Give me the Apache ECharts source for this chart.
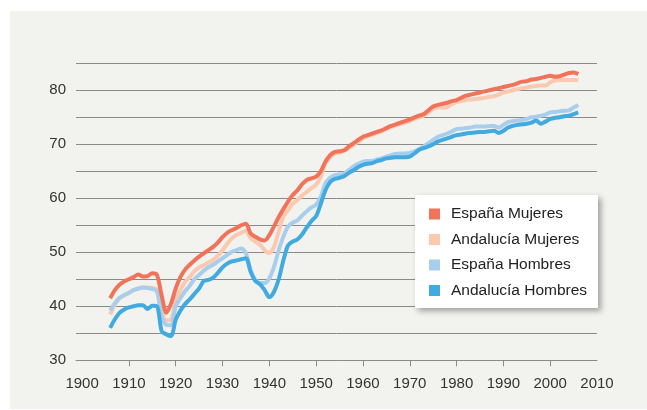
<!DOCTYPE html>
<html>
<head>
<meta charset="utf-8">
<script src="https://cdn.jsdelivr.net/npm/echarts@6/dist/echarts.min.js"></script>
<style>
  html, body { margin: 0; padding: 0; background: #ffffff; }
  #panel { position: absolute; left: 10px; top: 11px; width: 637px; height: 398px; background: #f2f2ee; }
  #chart { position: absolute; left: 0; top: 0; width: 647px; height: 410px; }
</style>
</head>
<body>
<div id="panel"></div>
<div id="chart"></div>
<script>
// años 1906-2006
const startYear = 1906;
const xLabels = [1900, 1910, 1920, 1930, 1940, 1950, 1960, 1970, 1980, 1990, 2000, 2010];
const xTicks = [1910, 1920, 1930, 1940, 1950, 1960, 1970, 1980, 1990, 2000];

const espanaMujeres = [
  41.5, 43.0, 44.0, 44.6, 45.0, 45.4, 45.9, 45.5, 45.6, 46.1,
  45.8, 42.0, 38.8, 40.5, 43.3, 45.4, 46.8, 47.7, 48.5, 49.2,
  49.8, 50.4, 51.0, 51.8, 52.8, 53.6, 54.1, 54.5, 55.0, 55.3,
  53.5, 52.9, 52.4, 52.2, 53.2, 54.8, 56.5, 58.0, 59.4, 60.6,
  61.5, 62.6, 63.4, 63.7, 64.0, 65.0, 66.8, 68.0, 68.6, 68.7,
  68.9, 69.6, 70.2, 70.8, 71.4, 71.7, 72.0, 72.3, 72.6, 73.0,
  73.4, 73.7, 74.0, 74.3, 74.6, 75.0, 75.3, 75.6, 76.3, 77.0,
  77.3, 77.5, 77.7, 78.0, 78.2, 78.6, 79.0, 79.2, 79.4, 79.6,
  79.8, 80.0, 80.2, 80.4, 80.6, 80.8, 81.0, 81.3, 81.6, 81.7,
  82.0, 82.1, 82.3, 82.5, 82.7, 82.5, 82.6, 82.9, 83.2, 83.3,
  83.0
];
const andaluciaMujeres = [
  38.5, 40.3, 41.5, 42.0, 42.5, 43.0, 43.3, 43.5, 43.5, 43.4,
  43.0, 39.0, 37.4, 37.6, 41.0, 43.0, 44.5, 45.4, 46.5, 47.2,
  47.6, 48.1, 48.6, 49.4, 50.4, 51.6, 52.6, 53.2, 53.6, 54.0,
  52.6, 52.0, 51.4, 50.4, 49.9, 51.0, 53.8, 56.6, 57.8, 59.0,
  59.7, 60.5, 61.2, 61.9, 62.5, 64.0, 66.5, 67.6, 68.3, 68.5,
  68.8, 69.3, 69.9, 70.5, 71.1, 71.5, 71.8, 72.1, 72.4, 72.9,
  73.2, 73.5, 73.8, 74.0, 74.3, 74.7, 75.0, 75.3, 75.9, 76.6,
  76.8, 76.8, 76.9, 77.4, 77.8, 78.0, 78.2, 78.3, 78.4, 78.5,
  78.6, 78.8, 78.9, 79.2, 79.6, 79.8, 80.0, 80.2, 80.4, 80.5,
  80.7, 80.8, 80.9, 80.9, 81.5, 81.8, 81.9, 81.9, 81.9, 81.9,
  81.9
];
const espanaHombres = [
  39.2, 40.6, 41.6, 42.1, 42.5, 43.0, 43.3, 43.5, 43.4, 43.2,
  42.8, 38.0, 36.6, 36.5, 40.0, 41.5, 42.8, 43.8, 45.0, 45.8,
  46.6, 47.2, 47.7, 48.3, 48.9, 49.5, 50.1, 50.4, 50.7, 49.8,
  46.7, 44.9, 44.3, 44.3, 45.2, 47.3, 50.4, 52.9, 54.8, 55.5,
  55.9, 56.8, 57.6, 58.3, 58.8, 60.3, 62.8, 63.8, 64.3, 64.4,
  64.6, 65.2, 65.9, 66.4, 66.8, 66.9, 66.9, 67.2, 67.4, 67.7,
  68.0, 68.2, 68.3, 68.3, 68.4, 68.7, 69.1, 69.6, 70.2, 70.8,
  71.4, 71.7, 72.0, 72.4, 72.8, 72.9, 73.0, 73.1, 73.3, 73.3,
  73.3, 73.4, 73.4, 73.1, 73.6, 74.1, 74.3, 74.4, 74.5, 74.7,
  75.0, 75.1, 75.3, 75.5, 75.9, 76.0, 76.1, 76.2, 76.3, 76.8,
  77.3
];
const andaluciaHombres = [
  36.0, 37.6, 38.8, 39.4, 39.8, 40.0, 40.2, 40.2, 39.5, 40.1,
  40.0, 35.4, 34.8, 34.5, 37.5, 39.2, 40.4, 41.3, 42.3, 43.3,
  44.7, 44.9, 45.3, 46.2, 47.2, 47.9, 48.3, 48.5, 48.7, 48.9,
  46.4, 44.7, 44.1, 43.0, 41.7, 42.7, 45.0, 48.5, 51.3, 52.0,
  52.4, 53.3, 54.6, 55.8, 56.7, 59.0, 61.5, 63.0, 63.6, 63.8,
  64.1, 64.7, 65.2, 65.8, 66.2, 66.4, 66.5, 66.9, 67.1, 67.4,
  67.5, 67.6, 67.6, 67.6, 67.7, 68.3, 69.0, 69.3, 69.6, 70.0,
  70.5, 70.8, 71.1, 71.4, 71.7, 71.8, 72.0, 72.1, 72.2, 72.3,
  72.3, 72.4, 72.5, 72.1, 72.5, 73.1, 73.4, 73.6, 73.7, 73.8,
  74.0, 74.4, 73.8, 74.2, 74.7, 74.9, 75.0, 75.2, 75.3, 75.6,
  75.9
];

const years = [];
for (let i = 0; i < espanaMujeres.length; i++) years.push(startYear + i);
const pairs = (vals) => vals.map((v, i) => [years[i], v]);

const font = "'Liberation Sans', Arial, sans-serif";
const gridColor = "#8a8a8a";

function lineSeries(name, vals, color, z) {
  return {
    name: name,
    type: "line",
    data: pairs(vals),
    color: color,
    smooth: 0.3,
    symbol: "none",
    z: z,
    lineStyle: { width: 4, color: color }
  };
}

const myChart = echarts.init(document.getElementById("chart"));
myChart.setOption({
  animation: false,
  grid: { left: 76, right: 50, top: 63.3, bottom: 49.7, outerBoundsMode: "none" },
  xAxis: {
    type: "value",
    min: 1898.7,
    max: 2010,
    axisLine: { show: true, lineStyle: { color: gridColor, width: 1 } },
    axisTick: { show: true, length: 6, customValues: xTicks, lineStyle: { color: gridColor } },
    axisLabel: {
      customValues: xLabels,
      margin: 16,
      color: "#333",
      fontFamily: font,
      fontSize: 15,
      formatter: function (v) { return String(v); }
    },
    splitLine: { show: false }
  },
  yAxis: {
    type: "value",
    min: 30,
    max: 85,
    interval: 5,
    axisLine: { show: false },
    axisTick: { show: false },
    axisLabel: {
      margin: 10,
      color: "#333",
      fontFamily: font,
      fontSize: 15,
      formatter: function (v) { return v % 10 === 0 ? String(v) : ""; }
    },
    splitLine: { show: true, lineStyle: { color: gridColor, width: 1 } }
  },
  graphic: [
    {
      type: "rect",
      z: 5,
      shape: { x: 415, y: 195, width: 183, height: 113 },
      style: {
        fill: "#ffffff",
        shadowBlur: 6,
        shadowOffsetX: 3,
        shadowOffsetY: 3,
        shadowColor: "rgba(0,0,0,0.35)"
      }
    }
  ],
  legend: {
    orient: "vertical",
    left: 429,
    top: 206,
    padding: 0,
    z: 10,
    icon: "rect",
    itemWidth: 11,
    itemHeight: 11,
    itemGap: 9.5,
    data: ["España Mujeres", "Andalucía Mujeres", "España Hombres", "Andalucía Hombres"],
    textStyle: {
      color: "#222",
      fontFamily: font,
      fontSize: 15.5,
      padding: [0, 0, 0, 6]
    }
  },
  series: [
    lineSeries("Andalucía Mujeres", andaluciaMujeres, "#fbc8b0", 2),
    lineSeries("España Hombres", espanaHombres, "#a8ceec", 3),
    lineSeries("España Mujeres", espanaMujeres, "#f0735a", 4),
    lineSeries("Andalucía Hombres", andaluciaHombres, "#40aae1", 5)
  ]
});
</script>
</body>
</html>
